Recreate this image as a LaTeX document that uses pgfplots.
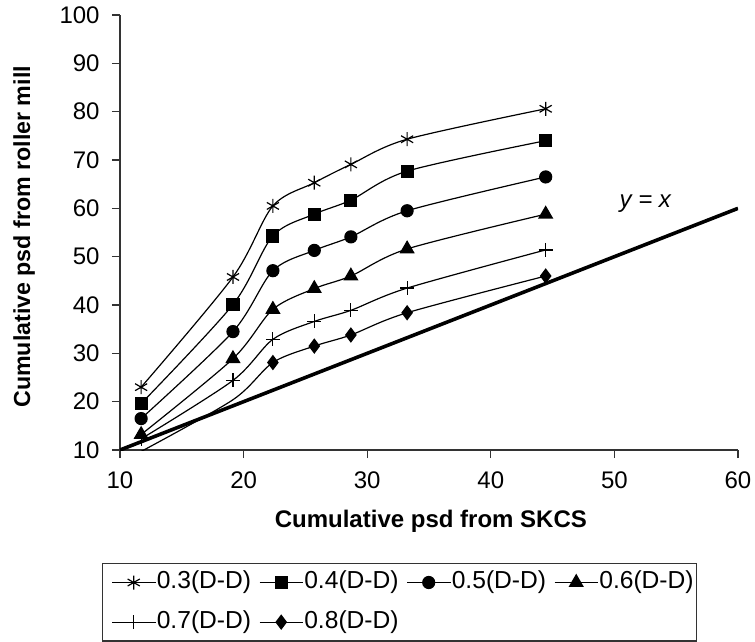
\documentclass[border=0pt]{standalone}
\usepackage{fontspec}
\setmainfont{Liberation Sans}
\usepackage{pgfplots}
\usepackage{pgfplotstable}
\pgfplotsset{compat=1.18}

% cumulative psd: SKCS (x) vs roller mill for each D-D ratio
\pgfplotstableread{
x      s3    s4    s5    s6    s7    s8
11.71  23.0  19.6  16.5  13.2  12.3   9.7
19.14  45.8  40.1  34.5  28.9  24.4  20.4
22.37  60.5  54.3  47.1  39.1  32.9  28.1
25.72  65.3  58.8  51.3  43.4  36.6  31.5
28.68  69.1  61.7  54.1  46.0  38.9  33.8
33.23  74.3  67.7  59.5  51.6  43.5  38.4
44.44  80.6  74.0  66.5  58.8  51.4  46.0
}\psd

\begin{document}
\begin{tikzpicture}
\begin{axis}[name=ax, at={(0,0)}, anchor=south west,
  scale only axis, width=309pt, height=217.5pt,
  xmin=10, xmax=60, ymin=10, ymax=100,
  xtick={10,20,...,60}, ytick={10,20,...,100},
  axis lines*=left, axis line style={-, black!80, line width=0.6pt},
  tick align=outside, major tick length=4pt,
  tick style={black!80, line width=0.6pt},
  /pgf/number format/assume math mode=true,
  ticklabel style={font=\fontsize{12}{14}\selectfont},
  xticklabel style={anchor=north, inner sep=0pt, yshift=-6.9pt},
  yticklabel style={anchor=east, inner sep=0pt, xshift=-6pt},
  xlabel={Cumulative psd from SKCS},
  ylabel={Cumulative psd from roller mill},
  xlabel style={at={(axis description cs:0.503,-0.177)}, anchor=base,
    font=\bfseries\fontsize{12}{14}\selectfont},
  ylabel style={at={(axis description cs:-0.155,0.49)}, anchor=center,
    font=\bfseries\fontsize{11.6}{14}\selectfont},
  clip marker paths=true,
  every axis plot/.append style={black, line width=0.6pt, smooth, tension=0.5},
  legend columns=4,
  legend style={at={(axis description cs:-0.0291,-0.26)}, anchor=north west,
    draw=black!80, line width=0.6pt, inner xsep=1pt, inner ysep=1.5pt,
    font=\fontsize{12.3}{14}\selectfont, row sep=4pt,
    nodes={inner xsep=0.5pt, inner ysep=2pt, text height=9pt, text depth=2.8pt},
    /tikz/every even column/.append style={column sep=0pt}},
  legend cell align=left,
  legend image code/.code={\path (-3.5pt,0pt);
    \draw[mark repeat=2, mark phase=2, #1] plot coordinates {(0pt,0pt) (10.75pt,0pt) (21.5pt,0pt)};},
]
\addplot[line width=1.8pt, mark=none, forget plot] coordinates {(10,10) (60,60)};
\addplot[mark=asterisk, mark size=3.5pt] table[x=x, y=s3] {\psd};
\addlegendentry{0.3(D-D)}
\addplot[mark=square*, mark size=3pt] table[x=x, y=s4] {\psd};
\addlegendentry{0.4(D-D)}
\addplot[mark=*, mark size=3pt] table[x=x, y=s5] {\psd};
\addlegendentry{0.5(D-D)}
\addplot[mark=triangle*, mark size=3.8pt] table[x=x, y=s6] {\psd};
\addlegendentry{0.6(D-D)}
\addplot[mark=+, mark size=3.5pt] table[x=x, y=s7] {\psd};
\addlegendentry{0.7(D-D)}
\addplot[mark=diamond*, mark size=3.4pt, mark phase=2] table[x=x, y=s8] {\psd};
\addlegendentry{0.8(D-D)}
\node[font=\itshape\fontsize{12}{14}\selectfont] at (axis cs:52.5,61) {y = x};
\end{axis}
\path ([shift={(-60pt,-95.5pt)}]ax.south west) rectangle ([shift={(317.5pt,225pt)}]ax.south west);
\end{tikzpicture}
\end{document}
